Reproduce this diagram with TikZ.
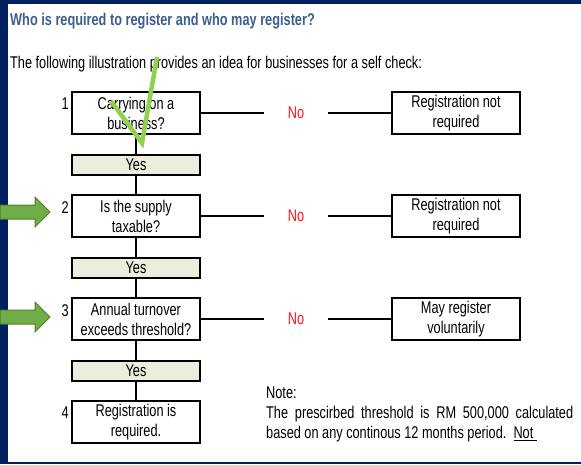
\documentclass[tikz,border=0pt]{standalone}
\usepackage{fontspec}
\setmainfont{Liberation Sans}[FakeStretch=0.75]
\usepackage{tikz}
\usetikzlibrary{positioning}
\definecolor{slidenavy}{RGB}{0,32,96}
\definecolor{titleblue}{RGB}{62,94,142}
\definecolor{yesfill}{RGB}{234,238,220}
\definecolor{nored}{RGB}{255,20,30}
\definecolor{arrowgreen}{RGB}{112,173,71}
\definecolor{arrowedge}{RGB}{80,126,50}
\definecolor{tickgreen}{RGB}{146,208,80}

\begin{document}
\begin{tikzpicture}[x=1pt, y=-1pt,
    txt/.style={font=\fontsize{17}{20}\selectfont},
    qbox/.style={rectangle, draw=black, line width=2pt, txt, align=center,
        minimum width=128pt, minimum height=42pt, inner sep=0pt, outer sep=0pt},
    yesbox/.style={qbox, fill=yesfill, minimum height=20pt},
    nolabel/.style={txt, text=nored, minimum width=64pt, inner sep=0pt, outer sep=0pt},
    numlabel/.style={txt, inner sep=0pt, anchor=north east},
    link/.style={line width=1.5pt},
    pointer/.style={fill=arrowgreen, draw=arrowedge, line width=1pt},
    node distance=20.5pt
]
\useasboundingbox (0,0) rectangle (581,464);
\fill[slidenavy] (0,0) rectangle (581,464);
\fill[white] (8,4) rectangle (581,462);

% heading
\node[txt, font=\fontsize{17}{20}\selectfont\bfseries, text=titleblue, inner sep=0pt,
      anchor=base west] (title) at (10,25) {Who is required to register and who may register?};
\node[txt, inner sep=0pt, anchor=base west] (intro) at (10,68)
    {The following illustration provides an idea for businesses for a self check:};

% left column: questions
\node[qbox] (q1) at (136,113) {Carrying on a\\business?};
\node[yesbox, below=of q1] (yes1) {Yes};
\node[qbox, below=of yes1] (q2) {Is the supply\\taxable?};
\node[yesbox, below=of q2] (yes2) {Yes};
\node[qbox, below=of yes2] (q3) {Annual turnover\\exceeds threshold?};
\node[yesbox, below=of q3] (yes3) {Yes};
\node[qbox, below=of yes3] (q4) {Registration is\\required.};

\node[numlabel] (n1) at ([xshift=-3pt, yshift=-6pt]q1.north west) {1};
\node[numlabel] (n2) at ([xshift=-3pt, yshift=-6pt]q2.north west) {2};
\node[numlabel] (n3) at ([xshift=-3pt, yshift=-6pt]q3.north west) {3};
\node[numlabel] (n4) at ([xshift=-3pt, yshift=-6pt]q4.north west) {4};

% right column: outcomes
\node[nolabel, right=64pt of q1] (no1) {No};
\node[qbox, right=64pt of no1] (r1) {Registration not\\required};
\node[nolabel, right=64pt of q2] (no2) {No};
\node[qbox, right=64pt of no2] (r2) {Registration not\\required};
\node[nolabel, right=64pt of q3] (no3) {No};
\node[qbox, right=64pt of no3] (r3) {May register\\voluntarily};

\draw[link] (q1) -- (yes1) -- (q2) -- (yes2) -- (q3) -- (yes3) -- (q4);
\draw[link] (q1) -- (no1) -- (r1);
\draw[link] (q2) -- (no2) -- (r2);
\draw[link] (q3) -- (no3) -- (r3);

% note
\node[txt, inner sep=0pt, anchor=north west, align=left] (note) at (266,387)
    {Note:\\\makebox[307pt][s]{The prescirbed threshold is RM 500,000 calculated}\\
     based on any continous 12 months period.\ \ \underline{Not\ }};

% markers
\draw[pointer] (0,205) -- (35,205) -- (35,197) -- (50,212) -- (35,227) -- (35,219) -- (0,219) -- cycle;
\draw[pointer] (0,310) -- (35,310) -- (35,302) -- (50,317) -- (35,332) -- (35,324) -- (0,324) -- cycle;
\draw[tickgreen, line width=4.5pt, line join=miter] (111,101) -- (142,143) -- (157,57);
\end{tikzpicture}
\end{document}
